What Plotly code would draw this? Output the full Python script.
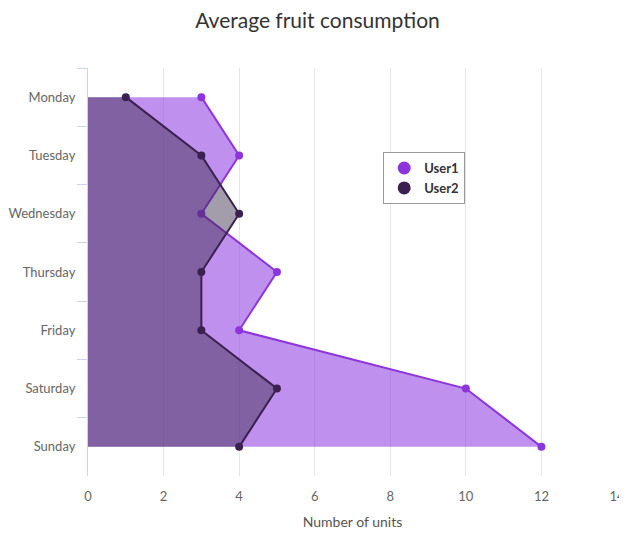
import plotly.graph_objects as go

# datos
dias = ['Monday', 'Tuesday', 'Wednesday', 'Thursday', 'Friday', 'Saturday', 'Sunday']
user1 = [3, 4, 3, 5, 4, 10, 12]
user2 = [1, 3, 4, 3, 3, 5, 4]

color1 = '#8c35dc'
color2 = '#3a2150'

fig = go.Figure()

# areas (relleno hasta x=0)
fig.add_trace(go.Scatter(x=user1, y=dias, mode='lines+markers', fill='tozerox',
                         fillcolor='rgba(150,70,228,0.6)',
                         line=dict(color=color1, width=2),
                         marker=dict(color=color1, size=8),
                         showlegend=False, name='User1'))
fig.add_trace(go.Scatter(x=user2, y=dias, mode='lines+markers', fill='tozerox',
                         fillcolor='rgba(55,42,71,0.46)',
                         line=dict(color=color2, width=2),
                         marker=dict(color=color2, size=8),
                         showlegend=False, name='User2'))

# leyenda solo con circulos
fig.add_trace(go.Scatter(x=[None], y=[None], mode='markers', name='User1',
                         marker=dict(color=color1, size=13)))
fig.add_trace(go.Scatter(x=[None], y=[None], mode='markers', name='User2',
                         marker=dict(color=color2, size=13)))

# la pagina tiene 8px de margen en el body, por eso 619x532
fig.update_layout(
    width=619, height=532,
    margin=dict(l=80, r=10, t=60, b=64),
    paper_bgcolor='white', plot_bgcolor='white',
    font=dict(family='Lato, Open Sans, sans-serif', color='#666666', size=12),
    title=dict(text='Average fruit consumption', x=0.5, xref='container', xanchor='center',
               yref='container', y=0.977, yanchor='middle',
               font=dict(size=21, color='#333333')),
    legend=dict(x=0.558, y=0.794, xanchor='left', yanchor='top',
                bgcolor='white', bordercolor='#999999', borderwidth=1,
                font=dict(size=13, color='#333333', weight='bold'),
                itemwidth=30),
)

fig.update_xaxes(range=[0, 14], dtick=2, showgrid=True, gridcolor='#e6e6e6',
                 zeroline=False, showline=False, automargin=False,
                 ticks='outside', ticklen=8, tickcolor='rgba(0,0,0,0)',
                 ticklabeloverflow='allow',
                 title=dict(text='Number of units', font=dict(size=14, color='#555555'), standoff=14),
                 tickfont=dict(size=13, color='#666666'))
fig.update_yaxes(range=[6.5, -0.5], showgrid=False, zeroline=False, automargin=False,
                 showline=True, linecolor='#ccd6eb', linewidth=1,
                 ticks='outside', tickson='boundaries', ticklen=10, tickcolor='#ccd6eb',
                 ticklabelstandoff=9,
                 tickfont=dict(size=13, color='#666666'))

fig.write_html("out.html")
